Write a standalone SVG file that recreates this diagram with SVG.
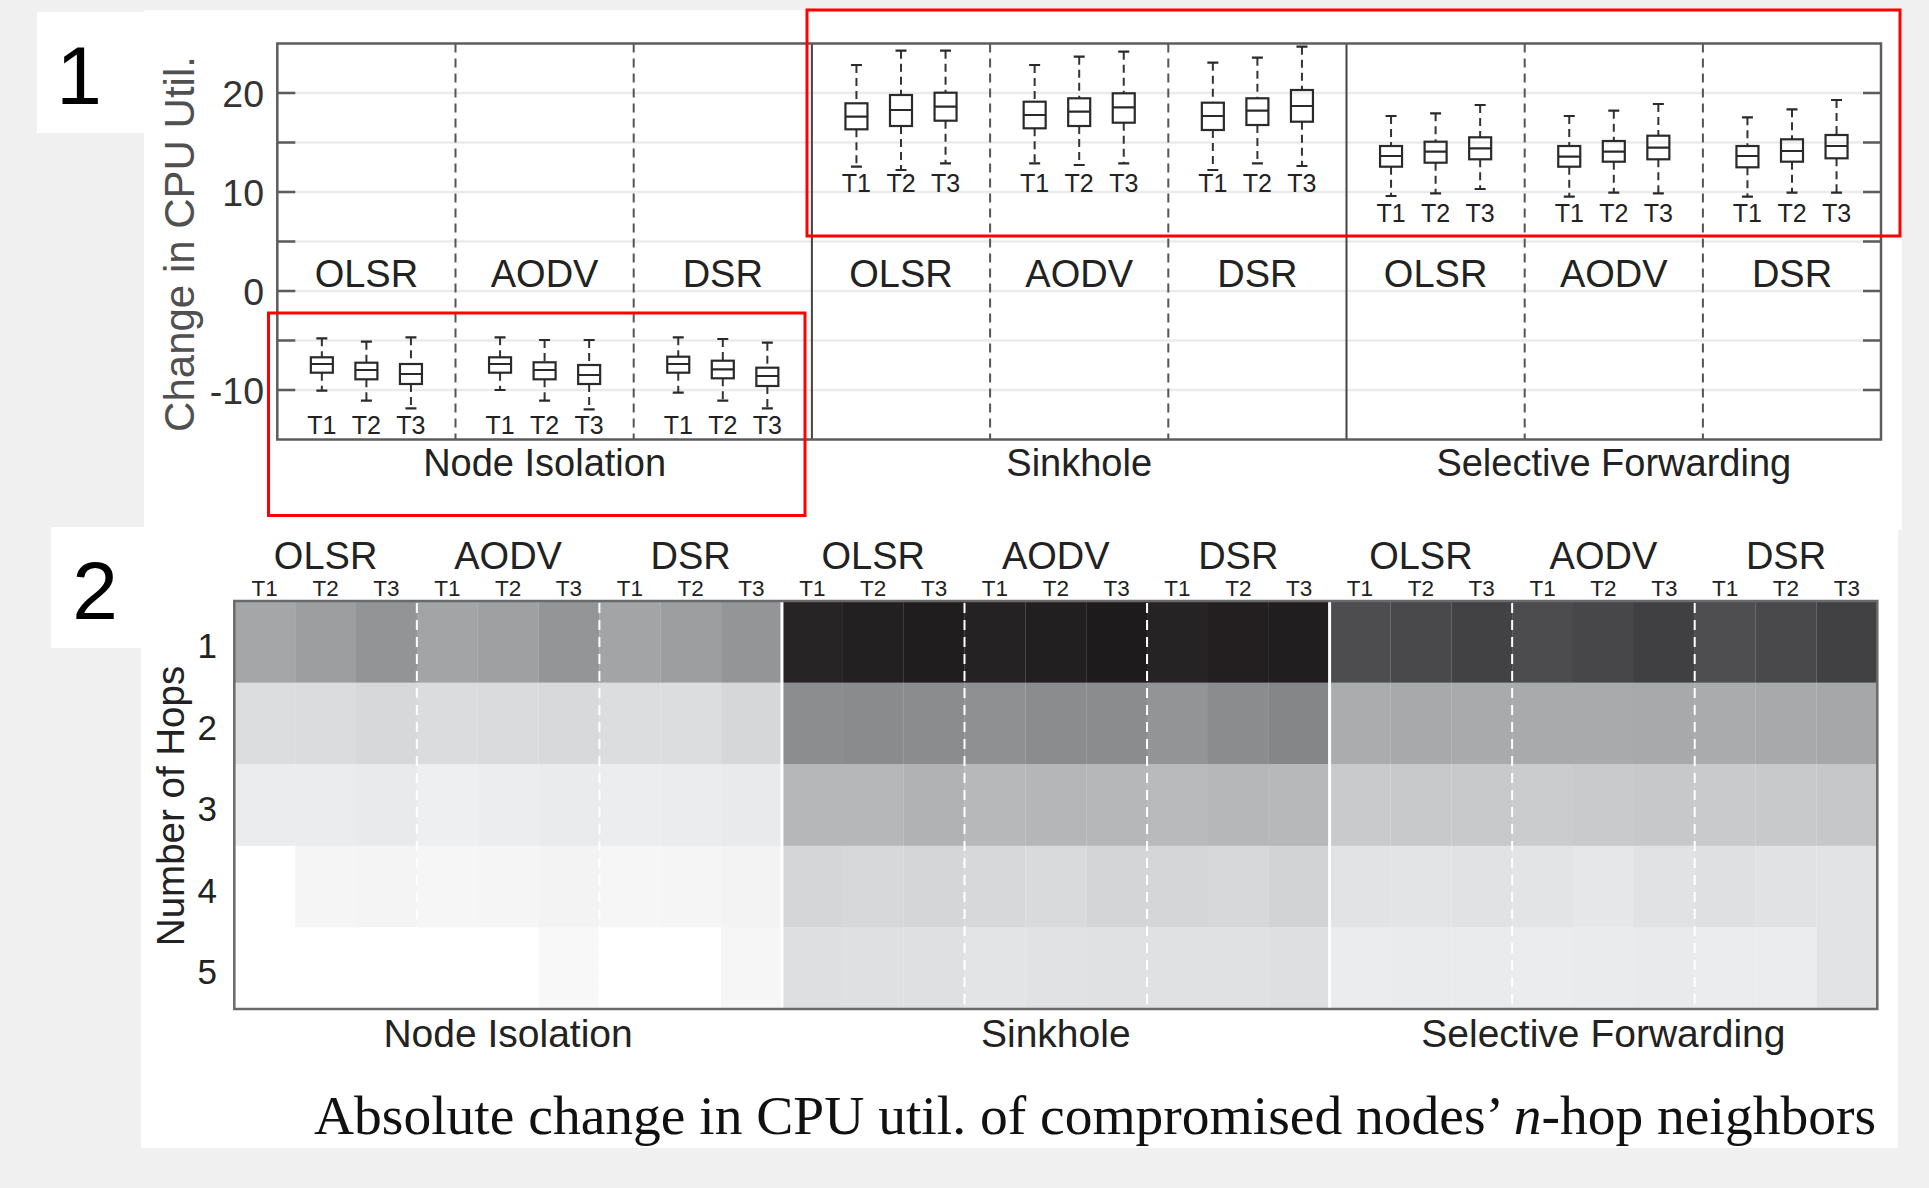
<svg xmlns="http://www.w3.org/2000/svg" width="1929" height="1188" viewBox="0 0 1929 1188">
<style>
.lb{font-family:"Liberation Sans",Arial,Helvetica,sans-serif;fill:#222}
.big{font-size:38px;text-anchor:middle}
.t{font-size:25px;text-anchor:middle}
.ht{font-size:22.5px;text-anchor:middle}
.ytk{font-size:37.5px;text-anchor:end;fill:#333}
.num{font-size:35px;text-anchor:end;fill:#222}
.grid{stroke:#ebebeb;stroke-width:2.5}
.tick{stroke:#5c5c5c;stroke-width:2.5}
.sep{stroke:#555;stroke-width:2;stroke-dasharray:9 6}
.solid{stroke:#444;stroke-width:2}
.wh{stroke:#333;stroke-width:2;stroke-dasharray:8 5;fill:none}
.cap{stroke:#2a2a2a;stroke-width:2.2;fill:none}
.bx rect{fill:none;stroke:#2a2a2a;stroke-width:2.2}
.red{fill:none;stroke:#ff0000;stroke-width:3}
.wsep{stroke:#ffffff;stroke-width:2;stroke-dasharray:10 7}
.wsol{stroke:#ffffff;stroke-width:3}
.panelno{font-family:"Liberation Sans",Arial,sans-serif;font-size:82px;fill:#000;text-anchor:middle}
</style>

<!-- page background and white panels -->
<rect x="0" y="0" width="1929" height="1188" fill="#f0f0f0"/>
<rect x="144" y="10" width="1758" height="520" fill="#ffffff"/>
<rect x="37" y="12" width="107" height="121" fill="#ffffff"/>
<rect x="141" y="527" width="1757" height="621" fill="#ffffff"/>
<rect x="51" y="527" width="90" height="121" fill="#ffffff"/>
<text class="panelno" x="79" y="104">1</text>
<text class="panelno" x="95" y="619">2</text>

<!-- ===== Chart 1: box plots ===== -->
<g id="chart1">
  <g id="grid1">
    <path class="grid" d="M277.3 93H1881M277.3 142.5H1881M277.3 192H1881M277.3 241.5H1881M277.3 291H1881M277.3 340.5H1881M277.3 390H1881"/>
    <path class="tick" d="M277.3 93h18M277.3 142.5h18M277.3 192h18M277.3 241.5h18M277.3 291h18M277.3 340.5h18M277.3 390h18M1881 93h-18M1881 142.5h-18M1881 192h-18M1881 241.5h-18M1881 291h-18M1881 340.5h-18M1881 390h-18"/>
    <path class="sep" d="M455.5 43.5V439.5M633.7 43.5V439.5M990.1 43.5V439.5M1168.3 43.5V439.5M1524.7 43.5V439.5M1702.9 43.5V439.5"/>
    <path class="solid" d="M811.9 43.5V439.5M1346.5 43.5V439.5"/>
    <rect x="277.3" y="43.5" width="1603.7" height="396" fill="none" stroke="#5c5c5c" stroke-width="2.5"/>
  </g>

  <g id="yaxis1" class="lb">
    <text class="ytk" x="264" y="107">20</text>
    <text class="ytk" x="264" y="206">10</text>
    <text class="ytk" x="264" y="305">0</text>
    <text class="ytk" x="264" y="404">-10</text>
    <text transform="translate(194 244) rotate(-90)" style="font-size:42px;text-anchor:middle;fill:#505050">Change in CPU Util.</text>
  </g>

  <g id="protocols1" class="lb big">
    <text x="366.4" y="287">OLSR</text>
    <text x="544.6" y="287">AODV</text>
    <text x="722.8" y="287">DSR</text>
    <text x="901" y="287">OLSR</text>
    <text x="1079.2" y="287">AODV</text>
    <text x="1257.4" y="287">DSR</text>
    <text x="1435.6" y="287">OLSR</text>
    <text x="1613.8" y="287">AODV</text>
    <text x="1792" y="287">DSR</text>
  </g>

  <g id="attacks1" class="lb big">
    <text x="544.6" y="476">Node Isolation</text>
    <text x="1079.2" y="476">Sinkhole</text>
    <text x="1613.8" y="476">Selective Forwarding</text>
  </g>

  <!-- Node Isolation boxes -->
  <g id="boxes-node-isolation" class="bx">
    <g transform="translate(321.85 0)"><path class="wh" d="M0 338.3V357.3M0 372.7V390.7"/><path class="cap" d="M-5.5 338.3H5.5M-5.5 390.7H5.5M-11 364H11"/><rect x="-11" y="357.3" width="22" height="15.4"/></g>
    <g transform="translate(366.4 0)"><path class="wh" d="M0 341.7V362.7M0 379.3V400.7"/><path class="cap" d="M-5.5 341.7H5.5M-5.5 400.7H5.5M-11 370H11"/><rect x="-11" y="362.7" width="22" height="16.6"/></g>
    <g transform="translate(410.95 0)"><path class="wh" d="M0 337.3V364M0 384V408.3"/><path class="cap" d="M-5.5 337.3H5.5M-5.5 408.3H5.5M-11 374H11"/><rect x="-11" y="364" width="22" height="20"/></g>
    <g transform="translate(500.05 0)"><path class="wh" d="M0 337.3V357.3M0 372.7V390"/><path class="cap" d="M-5.5 337.3H5.5M-5.5 390H5.5M-11 364H11"/><rect x="-11" y="357.3" width="22" height="15.4"/></g>
    <g transform="translate(544.6 0)"><path class="wh" d="M0 340V362.3M0 379.3V400.7"/><path class="cap" d="M-5.5 340H5.5M-5.5 400.7H5.5M-11 370H11"/><rect x="-11" y="362.3" width="22" height="17"/></g>
    <g transform="translate(589.15 0)"><path class="wh" d="M0 340V365M0 384V409.3"/><path class="cap" d="M-5.5 340H5.5M-5.5 409.3H5.5M-11 375H11"/><rect x="-11" y="365" width="22" height="19"/></g>
    <g transform="translate(678.25 0)"><path class="wh" d="M0 337.3V356.7M0 372.7V392.7"/><path class="cap" d="M-5.5 337.3H5.5M-5.5 392.7H5.5M-11 364H11"/><rect x="-11" y="356.7" width="22" height="16"/></g>
    <g transform="translate(722.8 0)"><path class="wh" d="M0 339V360.7M0 378.3V400.7"/><path class="cap" d="M-5.5 339H5.5M-5.5 400.7H5.5M-11 369.3H11"/><rect x="-11" y="360.7" width="22" height="17.6"/></g>
    <g transform="translate(767.35 0)"><path class="wh" d="M0 342.7V367.7M0 386V408.3"/><path class="cap" d="M-5.5 342.7H5.5M-5.5 408.3H5.5M-11 376H11"/><rect x="-11" y="367.7" width="22" height="18.3"/></g>
  </g>

  <!-- Sinkhole boxes -->
  <g id="boxes-sinkhole" class="bx">
    <g transform="translate(856.45 0)"><path class="wh" d="M0 65V103.3M0 129.3V166.7"/><path class="cap" d="M-5.5 65H5.5M-5.5 166.7H5.5M-11 116.7H11"/><rect x="-11" y="103.3" width="22" height="26"/></g>
    <g transform="translate(901 0)"><path class="wh" d="M0 50.7V95M0 126V170"/><path class="cap" d="M-5.5 50.7H5.5M-5.5 170H5.5M-11 110H11"/><rect x="-11" y="95" width="22" height="31"/></g>
    <g transform="translate(945.55 0)"><path class="wh" d="M0 50.7V92.7M0 120.7V163.3"/><path class="cap" d="M-5.5 50.7H5.5M-5.5 163.3H5.5M-11 106.7H11"/><rect x="-11" y="92.7" width="22" height="28"/></g>
    <g transform="translate(1034.65 0)"><path class="wh" d="M0 65V101.7M0 128.3V163.3"/><path class="cap" d="M-5.5 65H5.5M-5.5 163.3H5.5M-11 115H11"/><rect x="-11" y="101.7" width="22" height="26.6"/></g>
    <g transform="translate(1079.2 0)"><path class="wh" d="M0 56.7V98.3M0 126V165"/><path class="cap" d="M-5.5 56.7H5.5M-5.5 165H5.5M-11 111.7H11"/><rect x="-11" y="98.3" width="22" height="27.7"/></g>
    <g transform="translate(1123.75 0)"><path class="wh" d="M0 51.7V93.3M0 122.7V163.3"/><path class="cap" d="M-5.5 51.7H5.5M-5.5 163.3H5.5M-11 107.3H11"/><rect x="-11" y="93.3" width="22" height="29.4"/></g>
    <g transform="translate(1212.85 0)"><path class="wh" d="M0 62.7V102.7M0 130V170"/><path class="cap" d="M-5.5 62.7H5.5M-5.5 170H5.5M-11 116H11"/><rect x="-11" y="102.7" width="22" height="27.3"/></g>
    <g transform="translate(1257.4 0)"><path class="wh" d="M0 57.7V98.3M0 125V163.3"/><path class="cap" d="M-5.5 57.7H5.5M-5.5 163.3H5.5M-11 110.7H11"/><rect x="-11" y="98.3" width="22" height="26.7"/></g>
    <g transform="translate(1301.95 0)"><path class="wh" d="M0 46.7V90M0 121.7V166"/><path class="cap" d="M-5.5 46.7H5.5M-5.5 166H5.5M-11 106H11"/><rect x="-11" y="90" width="22" height="31.7"/></g>
  </g>

  <!-- Selective Forwarding boxes -->
  <g id="boxes-selective-forwarding" class="bx">
    <g transform="translate(1391.05 0)"><path class="wh" d="M0 116V146M0 166.7V196"/><path class="cap" d="M-5.5 116H5.5M-5.5 196H5.5M-11 156H11"/><rect x="-11" y="146" width="22" height="20.7"/></g>
    <g transform="translate(1435.6 0)"><path class="wh" d="M0 113.3V141.7M0 162.7V193.3"/><path class="cap" d="M-5.5 113.3H5.5M-5.5 193.3H5.5M-11 151.7H11"/><rect x="-11" y="141.7" width="22" height="21"/></g>
    <g transform="translate(1480.15 0)"><path class="wh" d="M0 105V137.3M0 159.3V189"/><path class="cap" d="M-5.5 105H5.5M-5.5 189H5.5M-11 148.3H11"/><rect x="-11" y="137.3" width="22" height="22"/></g>
    <g transform="translate(1569.25 0)"><path class="wh" d="M0 116V146M0 166.7V196.7"/><path class="cap" d="M-5.5 116H5.5M-5.5 196.7H5.5M-11 156.7H11"/><rect x="-11" y="146" width="22" height="20.7"/></g>
    <g transform="translate(1613.8 0)"><path class="wh" d="M0 110.7V141M0 161.7V192.7"/><path class="cap" d="M-5.5 110.7H5.5M-5.5 192.7H5.5M-11 151.7H11"/><rect x="-11" y="141" width="22" height="20.7"/></g>
    <g transform="translate(1658.35 0)"><path class="wh" d="M0 104V135.7M0 159.3V193.3"/><path class="cap" d="M-5.5 104H5.5M-5.5 193.3H5.5M-11 147.7H11"/><rect x="-11" y="135.7" width="22" height="23.6"/></g>
    <g transform="translate(1747.45 0)"><path class="wh" d="M0 117.3V146M0 167.3V196.7"/><path class="cap" d="M-5.5 117.3H5.5M-5.5 196.7H5.5M-11 156H11"/><rect x="-11" y="146" width="22" height="21.3"/></g>
    <g transform="translate(1792 0)"><path class="wh" d="M0 109.3V139.3M0 161.7V192.7"/><path class="cap" d="M-5.5 109.3H5.5M-5.5 192.7H5.5M-11 151H11"/><rect x="-11" y="139.3" width="22" height="22.4"/></g>
    <g transform="translate(1836.55 0)"><path class="wh" d="M0 100V135M0 158.3V192.7"/><path class="cap" d="M-5.5 100H5.5M-5.5 192.7H5.5M-11 146H11"/><rect x="-11" y="135" width="22" height="23.3"/></g>
  </g>

  <g id="tlabels1" class="lb t">
    <text x="321.85" y="434">T1</text><text x="366.4" y="434">T2</text><text x="410.95" y="434">T3</text>
    <text x="500.05" y="434">T1</text><text x="544.6" y="434">T2</text><text x="589.15" y="434">T3</text>
    <text x="678.25" y="434">T1</text><text x="722.8" y="434">T2</text><text x="767.35" y="434">T3</text>
    <text x="856.45" y="191.5">T1</text><text x="901" y="191.5">T2</text><text x="945.55" y="191.5">T3</text>
    <text x="1034.65" y="191.5">T1</text><text x="1079.2" y="191.5">T2</text><text x="1123.75" y="191.5">T3</text>
    <text x="1212.85" y="191.5">T1</text><text x="1257.4" y="191.5">T2</text><text x="1301.95" y="191.5">T3</text>
    <text x="1391.05" y="221.5">T1</text><text x="1435.6" y="221.5">T2</text><text x="1480.15" y="221.5">T3</text>
    <text x="1569.25" y="221.5">T1</text><text x="1613.8" y="221.5">T2</text><text x="1658.35" y="221.5">T3</text>
    <text x="1747.45" y="221.5">T1</text><text x="1792" y="221.5">T2</text><text x="1836.55" y="221.5">T3</text>
  </g>

  <!-- highlight frames -->
  <g id="highlights">
    <rect class="red" x="268.5" y="313" width="536.5" height="202.5"/>
    <rect class="red" x="807" y="10" width="1093" height="226"/>
  </g>
</g>

<!-- ===== Chart 2: heat map ===== -->
<g id="chart2">
  <g id="heat-cells">
    <g transform="translate(0 601)">
      <rect x="234.3" width="61" height="82" fill="#a5a6a8"/><rect x="295.15" width="61" height="82" fill="#9d9ea0"/><rect x="356" width="61" height="82" fill="#939496"/>
      <rect x="416.85" width="61" height="82" fill="#a3a4a6"/><rect x="477.7" width="61" height="82" fill="#9fa0a2"/><rect x="538.55" width="61" height="82" fill="#949597"/>
      <rect x="599.4" width="61" height="82" fill="#a3a4a6"/><rect x="660.25" width="61" height="82" fill="#9d9ea0"/><rect x="721.1" width="61" height="82" fill="#949597"/>
      <rect x="781.95" width="61" height="82" fill="#272426"/><rect x="842.8" width="61" height="82" fill="#232022"/><rect x="903.65" width="61" height="82" fill="#201d1f"/>
      <rect x="964.5" width="61" height="82" fill="#252224"/><rect x="1025.35" width="61" height="82" fill="#221f21"/><rect x="1086.2" width="61" height="82" fill="#1e1b1d"/>
      <rect x="1147.05" width="61" height="82" fill="#262325"/><rect x="1207.9" width="61" height="82" fill="#231f21"/><rect x="1268.75" width="61" height="82" fill="#211e20"/>
      <rect x="1329.6" width="61" height="82" fill="#4d4d4f"/><rect x="1390.45" width="61" height="82" fill="#49494b"/><rect x="1451.3" width="61" height="82" fill="#424244"/>
      <rect x="1512.15" width="61" height="82" fill="#4c4c4e"/><rect x="1573" width="61" height="82" fill="#474749"/><rect x="1633.85" width="61" height="82" fill="#404042"/>
      <rect x="1694.7" width="61" height="82" fill="#4e4e50"/><rect x="1755.55" width="61" height="82" fill="#49494b"/><rect x="1816.4" width="60.9" height="82" fill="#414143"/>
    </g>
    <g transform="translate(0 682.6)">
      <rect x="234.3" width="61" height="82" fill="#dcdddf"/><rect x="295.15" width="61" height="82" fill="#dbdcde"/><rect x="356" width="61" height="82" fill="#d7d8da"/>
      <rect x="416.85" width="61" height="82" fill="#dbdcde"/><rect x="477.7" width="61" height="82" fill="#dadbdd"/><rect x="538.55" width="61" height="82" fill="#d8d9db"/>
      <rect x="599.4" width="61" height="82" fill="#dcdddf"/><rect x="660.25" width="61" height="82" fill="#dcdddf"/><rect x="721.1" width="61" height="82" fill="#d6d7d9"/>
      <rect x="781.95" width="61" height="82" fill="#8c8d8f"/><rect x="842.8" width="61" height="82" fill="#8a8b8d"/><rect x="903.65" width="61" height="82" fill="#8b8c8e"/>
      <rect x="964.5" width="61" height="82" fill="#8f9092"/><rect x="1025.35" width="61" height="82" fill="#8b8c8e"/><rect x="1086.2" width="61" height="82" fill="#8b8c8e"/>
      <rect x="1147.05" width="61" height="82" fill="#939496"/><rect x="1207.9" width="61" height="82" fill="#8b8c8e"/><rect x="1268.75" width="61" height="82" fill="#858688"/>
      <rect x="1329.6" width="61" height="82" fill="#abacae"/><rect x="1390.45" width="61" height="82" fill="#a8a9ab"/><rect x="1451.3" width="61" height="82" fill="#a9aaac"/>
      <rect x="1512.15" width="61" height="82" fill="#a9aaac"/><rect x="1573" width="61" height="82" fill="#a9aaac"/><rect x="1633.85" width="61" height="82" fill="#a8a9ab"/>
      <rect x="1694.7" width="61" height="82" fill="#aaabad"/><rect x="1755.55" width="61" height="82" fill="#a8a9ab"/><rect x="1816.4" width="60.9" height="82" fill="#a6a7a9"/>
    </g>
    <g transform="translate(0 764.2)">
      <rect x="234.3" width="61" height="82" fill="#ebecee"/><rect x="295.15" width="61" height="82" fill="#ebecee"/><rect x="356" width="61" height="82" fill="#e9eaec"/>
      <rect x="416.85" width="61" height="82" fill="#eeeff0"/><rect x="477.7" width="61" height="82" fill="#ecedef"/><rect x="538.55" width="61" height="82" fill="#eaebed"/>
      <rect x="599.4" width="61" height="82" fill="#ecedef"/><rect x="660.25" width="61" height="82" fill="#ebecee"/><rect x="721.1" width="61" height="82" fill="#e9eaec"/>
      <rect x="781.95" width="61" height="82" fill="#b6b7b9"/><rect x="842.8" width="61" height="82" fill="#b6b7b9"/><rect x="903.65" width="61" height="82" fill="#b1b2b4"/>
      <rect x="964.5" width="61" height="82" fill="#b7b8ba"/><rect x="1025.35" width="61" height="82" fill="#b5b6b8"/><rect x="1086.2" width="61" height="82" fill="#b6b7b9"/>
      <rect x="1147.05" width="61" height="82" fill="#b9babc"/><rect x="1207.9" width="61" height="82" fill="#b6b7b9"/><rect x="1268.75" width="61" height="82" fill="#b7b8ba"/>
      <rect x="1329.6" width="61" height="82" fill="#c9cacc"/><rect x="1390.45" width="61" height="82" fill="#c8c9cb"/><rect x="1451.3" width="61" height="82" fill="#c8c9cb"/>
      <rect x="1512.15" width="61" height="82" fill="#cbcccd"/><rect x="1573" width="61" height="82" fill="#c9cacc"/><rect x="1633.85" width="61" height="82" fill="#c7c8ca"/>
      <rect x="1694.7" width="61" height="82" fill="#c9cacc"/><rect x="1755.55" width="61" height="82" fill="#c8c9cb"/><rect x="1816.4" width="60.9" height="82" fill="#c6c7c9"/>
    </g>
    <g transform="translate(0 845.8)">
      <rect x="234.3" width="61" height="82" fill="#ffffff"/><rect x="295.15" width="61" height="82" fill="#f5f5f6"/><rect x="356" width="61" height="82" fill="#f4f4f5"/>
      <rect x="416.85" width="61" height="82" fill="#f6f6f7"/><rect x="477.7" width="61" height="82" fill="#f5f5f6"/><rect x="538.55" width="61" height="82" fill="#f3f3f4"/>
      <rect x="599.4" width="61" height="82" fill="#f6f6f7"/><rect x="660.25" width="61" height="82" fill="#f5f5f6"/><rect x="721.1" width="61" height="82" fill="#f3f3f4"/>
      <rect x="781.95" width="61" height="82" fill="#d5d6d8"/><rect x="842.8" width="61" height="82" fill="#d7d8da"/><rect x="903.65" width="61" height="82" fill="#d5d6d8"/>
      <rect x="964.5" width="61" height="82" fill="#d7d8da"/><rect x="1025.35" width="61" height="82" fill="#d9dadc"/><rect x="1086.2" width="61" height="82" fill="#d4d5d7"/>
      <rect x="1147.05" width="61" height="82" fill="#d5d6d8"/><rect x="1207.9" width="61" height="82" fill="#d7d8da"/><rect x="1268.75" width="61" height="82" fill="#d2d3d5"/>
      <rect x="1329.6" width="61" height="82" fill="#e2e3e5"/><rect x="1390.45" width="61" height="82" fill="#e3e4e6"/><rect x="1451.3" width="61" height="82" fill="#e1e2e4"/>
      <rect x="1512.15" width="61" height="82" fill="#e3e4e6"/><rect x="1573" width="61" height="82" fill="#e6e7e9"/><rect x="1633.85" width="61" height="82" fill="#e1e2e4"/>
      <rect x="1694.7" width="61" height="82" fill="#dfe0e2"/><rect x="1755.55" width="61" height="82" fill="#e1e2e4"/><rect x="1816.4" width="60.9" height="82" fill="#e2e3e5"/>
    </g>
    <g transform="translate(0 927.4)">
      <rect x="234.3" width="61" height="81.6" fill="#ffffff"/><rect x="295.15" width="61" height="81.6" fill="#ffffff"/><rect x="356" width="61" height="81.6" fill="#ffffff"/>
      <rect x="416.85" width="61" height="81.6" fill="#ffffff"/><rect x="477.7" width="61" height="81.6" fill="#ffffff"/><rect x="538.55" width="61" height="81.6" fill="#f8f8f8"/>
      <rect x="599.4" width="61" height="81.6" fill="#ffffff"/><rect x="660.25" width="61" height="81.6" fill="#ffffff"/><rect x="721.1" width="61" height="81.6" fill="#f6f6f6"/>
      <rect x="781.95" width="61" height="81.6" fill="#dedfe1"/><rect x="842.8" width="61" height="81.6" fill="#dfe0e2"/><rect x="903.65" width="61" height="81.6" fill="#dfe0e2"/>
      <rect x="964.5" width="61" height="81.6" fill="#e3e4e6"/><rect x="1025.35" width="61" height="81.6" fill="#e1e2e4"/><rect x="1086.2" width="61" height="81.6" fill="#e0e1e3"/>
      <rect x="1147.05" width="61" height="81.6" fill="#e0e1e3"/><rect x="1207.9" width="61" height="81.6" fill="#e0e1e3"/><rect x="1268.75" width="61" height="81.6" fill="#dedfe1"/>
      <rect x="1329.6" width="61" height="81.6" fill="#ebeced"/><rect x="1390.45" width="61" height="81.6" fill="#eaebed"/><rect x="1451.3" width="61" height="81.6" fill="#eaebed"/>
      <rect x="1512.15" width="61" height="81.6" fill="#ebeced"/><rect x="1573" width="61" height="81.6" fill="#eaebed"/><rect x="1633.85" width="61" height="81.6" fill="#e9eaec"/>
      <rect x="1694.7" width="61" height="81.6" fill="#ebeced"/><rect x="1755.55" width="61" height="81.6" fill="#ebeced"/><rect x="1816.4" width="60.9" height="81.6" fill="#e2e3e5"/>
    </g>
  </g>

  <g id="heat-dividers">
    <path class="wsep" d="M416.85 603V1007M599.4 603V1007M964.5 603V1007M1147.05 603V1007M1512.15 603V1007M1694.7 603V1007"/>
    <path class="wsol" d="M781.95 602V1008M1329.6 602V1008"/>
    <rect x="234.3" y="601" width="1643" height="408" fill="none" stroke="#6a6a6a" stroke-width="2.5"/>
  </g>

  <g id="heat-protocols" class="lb big">
    <text x="325.6" y="569">OLSR</text>
    <text x="508.1" y="569">AODV</text>
    <text x="690.7" y="569">DSR</text>
    <text x="873.2" y="569">OLSR</text>
    <text x="1055.8" y="569">AODV</text>
    <text x="1238.3" y="569">DSR</text>
    <text x="1420.9" y="569">OLSR</text>
    <text x="1603.4" y="569">AODV</text>
    <text x="1786" y="569">DSR</text>
  </g>

  <g id="heat-tlabels" class="lb ht">
    <text x="264.7" y="596">T1</text><text x="325.6" y="596">T2</text><text x="386.4" y="596">T3</text>
    <text x="447.3" y="596">T1</text><text x="508.1" y="596">T2</text><text x="569" y="596">T3</text>
    <text x="629.8" y="596">T1</text><text x="690.7" y="596">T2</text><text x="751.5" y="596">T3</text>
    <text x="812.4" y="596">T1</text><text x="873.2" y="596">T2</text><text x="934.1" y="596">T3</text>
    <text x="994.9" y="596">T1</text><text x="1055.8" y="596">T2</text><text x="1116.6" y="596">T3</text>
    <text x="1177.5" y="596">T1</text><text x="1238.3" y="596">T2</text><text x="1299.2" y="596">T3</text>
    <text x="1360" y="596">T1</text><text x="1420.9" y="596">T2</text><text x="1481.7" y="596">T3</text>
    <text x="1542.6" y="596">T1</text><text x="1603.4" y="596">T2</text><text x="1664.3" y="596">T3</text>
    <text x="1725.1" y="596">T1</text><text x="1786" y="596">T2</text><text x="1846.8" y="596">T3</text>
  </g>

  <g id="heat-yaxis" class="lb">
    <text class="num" x="217" y="658">1</text>
    <text class="num" x="217" y="739.6">2</text>
    <text class="num" x="217" y="821.2">3</text>
    <text class="num" x="217" y="902.8">4</text>
    <text class="num" x="217" y="984.4">5</text>
    <text transform="translate(184 806) rotate(-90)" style="font-size:38.5px;text-anchor:middle">Number of Hops</text>
  </g>

  <g id="heat-attacks" class="lb" style="font-size:39px;text-anchor:middle">
    <text x="508.1" y="1047">Node Isolation</text>
    <text x="1055.8" y="1047">Sinkhole</text>
    <text x="1603.4" y="1047">Selective Forwarding</text>
  </g>

  <text id="caption" x="1876" y="1134" style="font-family:'Liberation Serif','Times New Roman',serif;font-size:55.5px;fill:#111;text-anchor:end">Absolute change in CPU util. of compromised nodes’ <tspan font-style="italic">n</tspan>-hop neighbors</text>
</g>
</svg>
